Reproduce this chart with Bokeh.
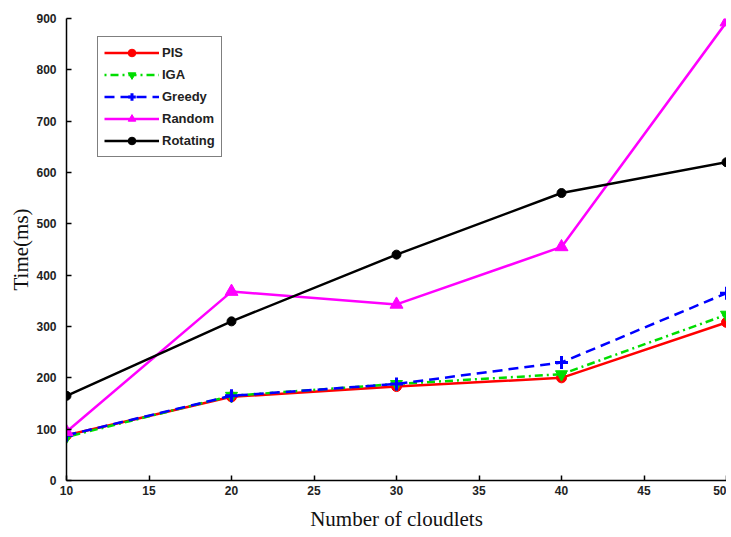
from bokeh.plotting import figure
from bokeh.models import Legend, LegendItem, FixedTicker, Range1d
from bokeh.embed import file_html
from bokeh.resources import INLINE

x = [10, 20, 30, 40, 50]
pis = [88, 163, 183, 200, 308]
iga = [85, 165, 188, 207, 323]
greedy = [88, 165, 188, 230, 365]
random_ = [95, 368, 343, 455, 893]
rotating = [165, 310, 440, 560, 620]

x_ticks = [10, 15, 20, 25, 30, 35, 40, 45, 50]
y_ticks = [0, 100, 200, 300, 400, 500, 600, 700, 800, 900]

p = figure(width=726, height=533, output_backend="svg", toolbar_location=None,
           x_range=Range1d(10, 50), y_range=Range1d(0, 900),
           min_border_left=66, min_border_right=0, min_border_top=18, min_border_bottom=52)
p.outline_line_color = None
p.xgrid.visible = False
p.ygrid.visible = False

for ax in (p.xaxis[0], p.yaxis[0]):
    ax.axis_line_color = "black"
    ax.axis_line_width = 1.5
    ax.major_tick_line_color = "black"
    ax.major_tick_line_width = 1.5
    ax.major_tick_in = 5
    ax.major_tick_out = 0
    ax.minor_tick_line_color = None
    ax.major_label_text_font = "Liberation Sans"
    ax.major_label_text_font_size = "12px"
    ax.major_label_text_font_style = "bold"
    ax.major_label_text_color = "#222222"
    ax.axis_label_text_font = "Liberation Serif"
    ax.axis_label_text_font_size = "21px"
    ax.axis_label_text_font_style = "normal"
    ax.axis_label_text_color = "#111111"

p.xaxis.ticker = FixedTicker(ticks=x_ticks)
p.yaxis.ticker = FixedTicker(ticks=y_ticks)
p.xaxis.axis_label = "Number of cloudlets"
p.yaxis.axis_label = "Time(ms)"
p.xaxis.major_label_standoff = 5
p.yaxis.major_label_standoff = 10
p.xaxis.axis_label_standoff = 9
p.yaxis.axis_label_standoff = 0

l1 = p.line(x, pis, line_color="red", line_width=2.5)
m1 = p.scatter(x, pis, marker="circle", size=10, color="red")
l2 = p.line(x, iga, line_color="#00dd00", line_width=2.5, line_dash="2 4 8 4")
m2 = p.scatter(x, iga, marker="inverted_triangle", size=12, color="#00dd00")
l3 = p.line(x, greedy, line_color="blue", line_width=2.5, line_dash="10 6")
m3 = p.scatter(x, greedy, marker="cross", size=13, line_color="blue", line_width=3)
l4 = p.line(x, random_, line_color="magenta", line_width=2.5)
m4 = p.scatter(x, random_, marker="triangle", size=13, color="magenta")
l5 = p.line(x, rotating, line_color="black", line_width=2.5)
m5 = p.scatter(x, rotating, marker="circle", size=9, color="black")

legend = Legend(items=[
    LegendItem(label="PIS", renderers=[l1, m1]),
    LegendItem(label="IGA", renderers=[l2, m2]),
    LegendItem(label="Greedy", renderers=[l3, m3]),
    LegendItem(label="Random", renderers=[l4, m4]),
    LegendItem(label="Rotating", renderers=[l5, m5]),
], location=(31, 323))
legend.border_line_color = "black"
legend.border_line_width = 1.5
legend.label_text_font = "Liberation Sans"
legend.label_text_font_size = "13px"
legend.label_text_font_style = "bold"
legend.label_text_color = "#222222"
legend.glyph_width = 55
legend.glyph_height = 19
legend.spacing = 3
legend.padding = 6
legend.label_standoff = 3
legend.background_fill_alpha = 1.0
p.add_layout(legend, "center")

open("out.html", "w").write(file_html(p, INLINE))
